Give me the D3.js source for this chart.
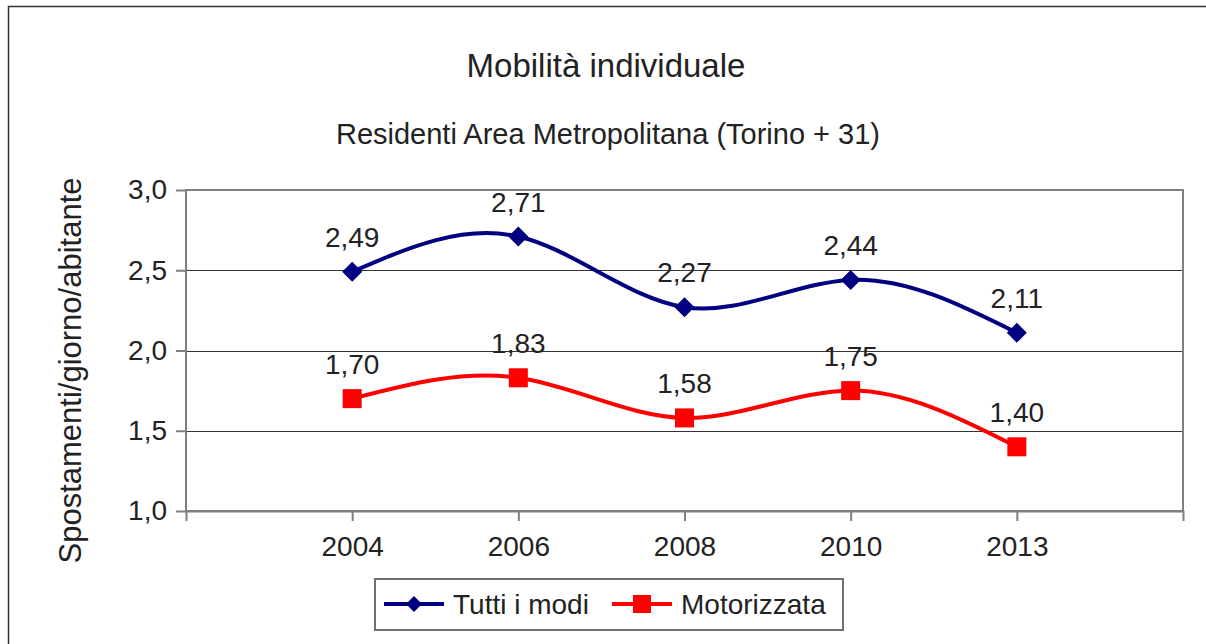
<!DOCTYPE html>
<html>
<head>
<meta charset="utf-8">
<script src="https://cdn.jsdelivr.net/npm/d3@7"></script>
<style>
  body { margin: 0; background: #fff; }
  svg text { font-family: "Liberation Sans", Arial, sans-serif; fill: #222; }
</style>
</head>
<body>
<div id="chart"></div>
<script>
var years = [ '2004', '2006', '2008', '2010', '2013' ];
var tuttiModi = [ 2.49, 2.71, 2.27, 2.44, 2.11 ];
var motorizzata = [ 1.70, 1.83, 1.58, 1.75, 1.40 ];
var yTicks = [ 1.0, 1.5, 2.0, 2.5, 3.0 ];

var W = 1206, H = 644;
var plot = { left: 186, right: 1183, top: 190, bottom: 511 };

var svg = d3.select( '#chart' ).append( 'svg' )
    .attr( 'width', W )
    .attr( 'height', H );

// outer frame
svg.append( 'rect' )
    .attr( 'x', 8.5 ).attr( 'y', 6.5 )
    .attr( 'width', W + 10 ).attr( 'height', H + 10 )
    .attr( 'fill', 'none' )
    .attr( 'stroke', '#333' )
    .attr( 'stroke-width', 1.5 );

var x = d3.scalePoint()
    .domain( years )
    .range( [ plot.left, plot.right ] )
    .padding( 1 );

var y = d3.scaleLinear()
    .domain( [ 1, 3 ] )
    .range( [ plot.bottom, plot.top ] );

var fmt = function( v, digits ) {
  return d3.format( '.' + digits + 'f' )( v ).replace( '.', ',' );
};

// titles
svg.append( 'text' )
    .attr( 'x', 606 ).attr( 'y', 77 )
    .attr( 'text-anchor', 'middle' )
    .style( 'font-size', '33px' )
    .text( 'Mobilità individuale' );

svg.append( 'text' )
    .attr( 'x', 608 ).attr( 'y', 144 )
    .attr( 'text-anchor', 'middle' )
    .style( 'font-size', '29px' )
    .text( 'Residenti Area Metropolitana (Torino + 31)' );

// gridlines
svg.append( 'g' )
  .selectAll( 'line' )
    .data( yTicks )
  .enter().append( 'line' )
    .attr( 'x1', plot.left ).attr( 'x2', plot.right )
    .attr( 'y1', function( d ) { return Math.round( y( d ) ) + 0.5; } )
    .attr( 'y2', function( d ) { return Math.round( y( d ) ) + 0.5; } )
    .attr( 'stroke', '#333' )
    .attr( 'stroke-width', 1 );

// plot frame
svg.append( 'rect' )
    .attr( 'x', plot.left ).attr( 'y', plot.top )
    .attr( 'width', plot.right - plot.left )
    .attr( 'height', plot.bottom - plot.top )
    .attr( 'fill', 'none' )
    .attr( 'stroke', '#7f7f7f' )
    .attr( 'stroke-width', 2 );

// y axis
var yAxis = svg.append( 'g' )
    .attr( 'transform', 'translate(' + plot.left + ',0)' )
    .call( d3.axisLeft( y )
      .tickValues( yTicks )
      .tickSize( 10 )
      .tickPadding( 9 )
      .tickFormat( function( d ) { return fmt( d, 1 ); } ) );
yAxis.select( '.domain' ).remove();
yAxis.selectAll( 'line' ).attr( 'stroke', '#7f7f7f' ).attr( 'stroke-width', 2 );
yAxis.selectAll( 'text' )
    .style( 'font-size', '28px' )
    .attr( 'fill', '#222' );

// x axis
var xAxis = svg.append( 'g' )
    .attr( 'transform', 'translate(0,' + plot.bottom + ')' )
    .call( d3.axisBottom( x )
      .tickSize( 10 )
      .tickSizeOuter( 10 )
      .tickPadding( 15 ) );
xAxis.select( '.domain' ).attr( 'stroke', '#7f7f7f' ).attr( 'stroke-width', 2 );
xAxis.selectAll( 'line' ).attr( 'stroke', '#7f7f7f' ).attr( 'stroke-width', 2 );
xAxis.selectAll( 'text' )
    .style( 'font-size', '28px' )
    .attr( 'fill', '#222' );

// y axis title
svg.append( 'text' )
    .attr( 'transform', 'translate(81,' + ( ( plot.top + plot.bottom ) / 2 + 20 ) + ') rotate(-90)' )
    .attr( 'text-anchor', 'middle' )
    .style( 'font-size', '31px' )
    .text( 'Spostamenti/giorno/abitante' );

var series = [
  { name: 'Tutti i modi', values: tuttiModi, color: '#000080', marker: 'diamond' },
  { name: 'Motorizzata', values: motorizzata, color: '#ff0000', marker: 'square' }
];

var line = d3.line()
    .x( function( d, i ) { return x( years[ i ] ); } )
    .y( function( d ) { return y( d ); } )
    .curve( d3.curveNatural );

function drawMarker( g, type, color, s ) {
  if ( type === 'diamond' ) {
    g.append( 'path' )
        .attr( 'd', 'M0,' + ( -s ) + 'L' + s + ',0L0,' + s + 'L' + ( -s ) + ',0Z' )
        .attr( 'fill', color );
  } else {
    g.append( 'rect' )
        .attr( 'x', -s ).attr( 'y', -s )
        .attr( 'width', 2 * s ).attr( 'height', 2 * s )
        .attr( 'fill', color );
  }
}

series.forEach( function( s ) {
  svg.append( 'path' )
      .datum( s.values )
      .attr( 'd', line )
      .attr( 'fill', 'none' )
      .attr( 'stroke', s.color )
      .attr( 'stroke-width', 4 );

  s.values.forEach( function( v, i ) {
    var g = svg.append( 'g' )
        .attr( 'transform', 'translate(' + x( years[ i ] ) + ',' + y( v ) + ')' );
    drawMarker( g, s.marker, s.color, s.marker === 'diamond' ? 10 : 9.5 );
    svg.append( 'text' )
        .attr( 'x', x( years[ i ] ) )
        .attr( 'y', y( v ) - 25 )
        .attr( 'text-anchor', 'middle' )
        .style( 'font-size', '28px' )
        .text( fmt( v, 2 ) );
  } );
} );

// legend
var legend = svg.append( 'g' );
legend.append( 'rect' )
    .attr( 'x', 375 ).attr( 'y', 579 )
    .attr( 'width', 468 ).attr( 'height', 51 )
    .attr( 'fill', '#fff' )
    .attr( 'stroke', '#6f6f6f' )
    .attr( 'stroke-width', 2 );

var legendX = [ 384, 612 ];
series.forEach( function( s, i ) {
  var lx = legendX[ i ];
  legend.append( 'line' )
      .attr( 'x1', lx ).attr( 'x2', lx + 60 )
      .attr( 'y1', 604 ).attr( 'y2', 604 )
      .attr( 'stroke', s.color )
      .attr( 'stroke-width', 4 );
  var g = legend.append( 'g' )
      .attr( 'transform', 'translate(' + ( lx + 30 ) + ',604)' );
  drawMarker( g, s.marker, s.color, s.marker === 'diamond' ? 8 : 9 );
  legend.append( 'text' )
      .attr( 'x', lx + 69 ).attr( 'y', 614 )
      .style( 'font-size', '28px' )
      .text( s.name );
} );
</script>
</body>
</html>
